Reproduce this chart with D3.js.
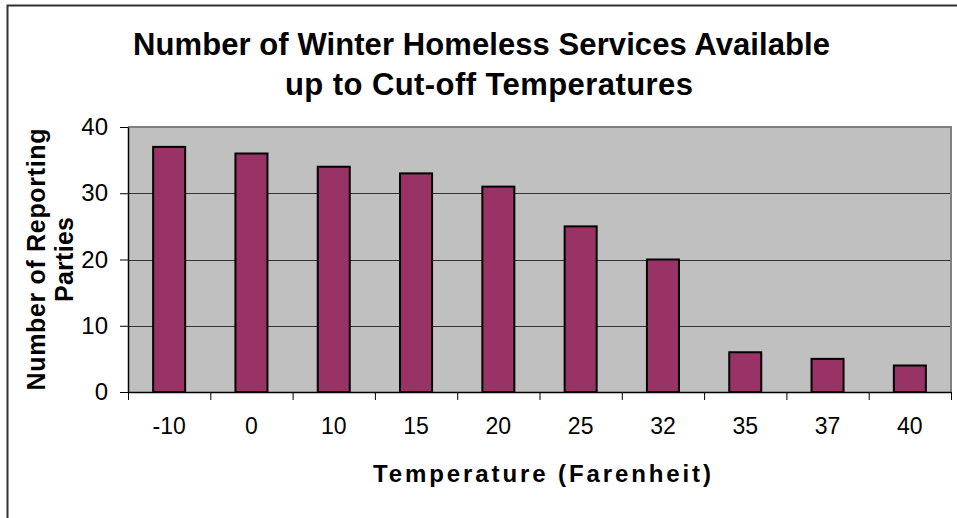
<!DOCTYPE html>
<html>
<head>
<meta charset="utf-8">
<script src="https://cdn.jsdelivr.net/npm/d3@7"></script>
<style>
  body { margin: 0; background: #fff; }
  svg { display: block; font-family: Arial, 'Liberation Sans', sans-serif; }
</style>
</head>
<body>
<svg id="chart" width="957" height="518"></svg>
<script>
'use strict';

// data
var temperatures = ['-10', '0', '10', '15', '20', '25', '32', '35', '37', '40'];
var parties = [37, 36, 34, 33, 31, 25, 20, 6, 5, 4];
var yTicks = [0, 10, 20, 30, 40];

var svg = d3.select('#chart');
var plot = { left: 128, right: 951, top: 127, bottom: 392 };

// outer frame (only left and top edges show in the picture)
svg.append('path')
  .attr('d', 'M7.5,518 V5.5 H957')
  .style('fill', 'none')
  .style('stroke', '#333')
  .style('stroke-width', '2px');

let x = d3.scaleBand()
  .domain(temperatures)
  .range([plot.left, plot.right])
  .paddingInner(0.611)
  .paddingOuter(0.3055);

let xb = d3.scaleLinear()
  .domain([0, temperatures.length])
  .range([plot.left, plot.right]);

let y = d3.scaleLinear()
  .domain([0, 40])
  .range([plot.bottom, plot.top]);

// plot background
svg.append('rect')
  .attr('x', plot.left)
  .attr('y', plot.top)
  .attr('width', plot.right - plot.left)
  .attr('height', plot.bottom - plot.top)
  .style('fill', '#c0c0c0');

// grid lines
svg.append('g')
  .selectAll('line')
  .data(yTicks.filter(function (d) { return d > 0 && d < 40; }))
  .enter().append('line')
  .attr('x1', plot.left)
  .attr('x2', plot.right)
  .attr('y1', function (d) { return Math.round(y(d)) + 0.5; })
  .attr('y2', function (d) { return Math.round(y(d)) + 0.5; })
  .style('stroke', '#333')
  .style('stroke-width', '1px');

// gray border top + right
svg.append('path')
  .attr('d', 'M' + plot.left + ',' + plot.top + ' H' + plot.right + ' V' + plot.bottom)
  .style('fill', 'none')
  .style('stroke', '#808080')
  .style('stroke-width', '2px');

// bars
svg.append('g')
  .selectAll('rect')
  .data(parties)
  .enter().append('rect')
  .attr('x', function (d, i) { return x(temperatures[i]); })
  .attr('y', function (d) { return y(d); })
  .attr('width', x.bandwidth())
  .attr('height', function (d) { return y(0) - y(d); })
  .style('fill', '#993366')
  .style('stroke', '#000')
  .style('stroke-width', '2px');

// y axis
let yAxis = svg.append('g')
  .attr('transform', 'translate(' + plot.left + ',0)')
  .call(d3.axisLeft(y).tickValues(yTicks).tickSize(8).tickSizeOuter(0).tickPadding(12));
yAxis.select('.domain').style('stroke', '#000').style('stroke-width', '1.5px');
yAxis.selectAll('line').style('stroke', '#000');
yAxis.selectAll('text')
  .style('font-size', '24px')
  .style('fill', '#000');

// x axis: tick marks at category boundaries
let xTickAxis = svg.append('g')
  .attr('transform', 'translate(0,' + plot.bottom + ')')
  .call(d3.axisBottom(xb).tickValues(d3.range(temperatures.length + 1))
    .tickFormat('').tickSize(8).tickSizeOuter(0));
xTickAxis.select('.domain').style('stroke', '#000').style('stroke-width', '1.5px');
xTickAxis.selectAll('line').style('stroke', '#000');

// x axis labels
let xLabelAxis = svg.append('g')
  .attr('transform', 'translate(0,' + plot.bottom + ')')
  .call(d3.axisBottom(x).tickSize(0).tickPadding(26));
xLabelAxis.select('.domain').remove();
xLabelAxis.selectAll('text')
  .style('font-size', '23px')
  .style('fill', '#000');

// titles
svg.append('text')
  .attr('x', 481.5)
  .attr('y', 55)
  .attr('text-anchor', 'middle')
  .attr('textLength', 697)
  .attr('lengthAdjust', 'spacing')
  .style('font-size', '31px')
  .style('font-weight', 'bold')
  .text('Number of Winter Homeless Services Available');

svg.append('text')
  .attr('x', 489)
  .attr('y', 95)
  .attr('text-anchor', 'middle')
  .attr('textLength', 408)
  .attr('lengthAdjust', 'spacing')
  .style('font-size', '31px')
  .style('font-weight', 'bold')
  .text('up to Cut-off Temperatures');

svg.append('text')
  .attr('x', 542)
  .attr('y', 482)
  .attr('text-anchor', 'middle')
  .attr('textLength', 338)
  .attr('lengthAdjust', 'spacing')
  .style('font-size', '24px')
  .style('font-weight', 'bold')
  .text('Temperature (Farenheit)');

let yTitle = svg.append('g')
  .attr('transform', 'translate(0,' + ((plot.top + plot.bottom) / 2) + ') rotate(-90)');
yTitle.append('text')
  .attr('x', 0)
  .attr('y', 45)
  .attr('text-anchor', 'middle')
  .attr('textLength', 262)
  .attr('lengthAdjust', 'spacing')
  .style('font-size', '25px')
  .style('font-weight', 'bold')
  .text('Number of Reporting');
yTitle.append('text')
  .attr('x', 0)
  .attr('y', 73)
  .attr('text-anchor', 'middle')
  .attr('textLength', 85)
  .attr('lengthAdjust', 'spacing')
  .style('font-size', '25px')
  .style('font-weight', 'bold')
  .text('Parties');
</script>
</body>
</html>
